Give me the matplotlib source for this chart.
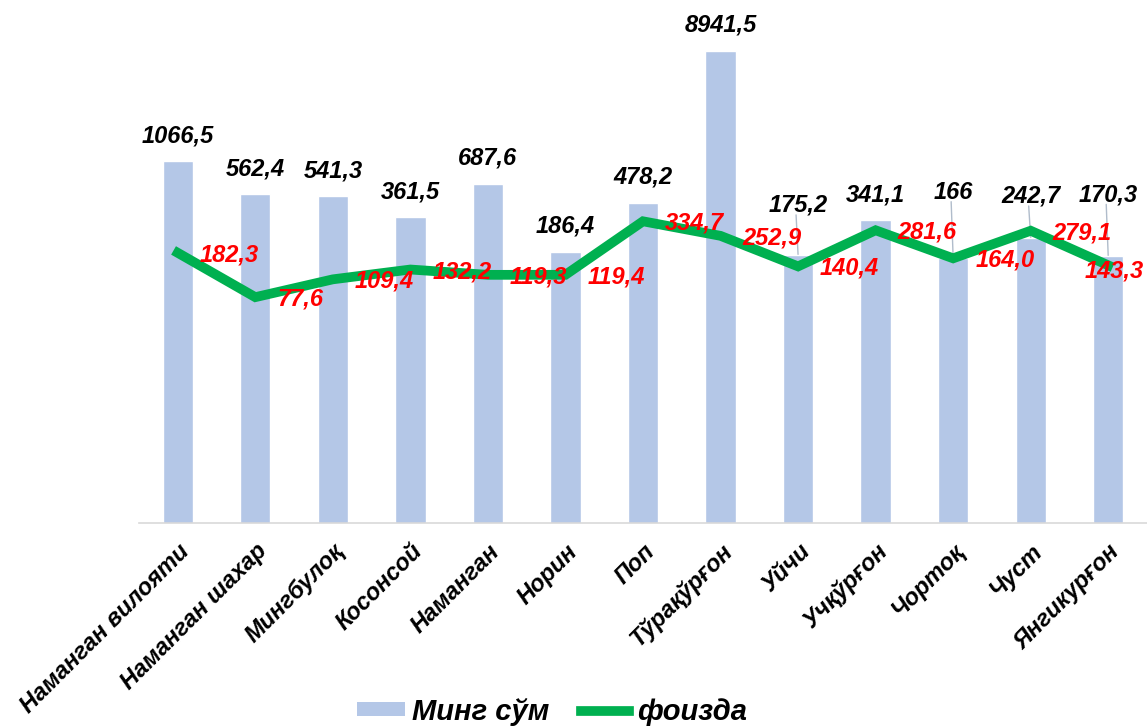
import matplotlib
matplotlib.use('Agg')
import matplotlib.pyplot as plt
from matplotlib.lines import Line2D
from matplotlib.patches import Patch

plt.rcParams['font.family'] = ['Liberation Sans', 'DejaVu Sans']

districts = ['Наманган вилояти', 'Наманган шахар', 'Мингбулоқ', 'Косонсой', 'Наманган',
             'Норин', 'Поп', 'Тўрақўрғон', 'Уйчи', 'Учқўрғон', 'Чортоқ', 'Чуст', 'Янгикурғон']
ming_sum = [1066.5, 562.4, 541.3, 361.5, 687.6, 186.4, 478.2, 8941.5, 175.2, 341.1, 166, 242.7, 170.3]
foizda = [182.3, 77.6, 109.4, 132.2, 119.3, 119.4, 334.7, 252.9, 140.4, 281.6, 164.0, 279.1, 143.3]
ming_sum_text = ['1066,5', '562,4', '541,3', '361,5', '687,6', '186,4', '478,2', '8941,5',
                 '175,2', '341,1', '166', '242,7', '170,3']
foizda_text = ['182,3', '77,6', '109,4', '132,2', '119,3', '119,4', '334,7', '252,9',
               '140,4', '281,6', '164,0', '279,1', '143,3']

# labels that were dragged up in the original (pixels), drawn with a leader line
lift = [0, 0, 0, 0, 0, 0, 0, 0, 24, 0, 40, 16, 36]

bar_color = '#B4C7E7'
line_color = '#00B050'

fig = plt.figure(figsize=(11.47, 7.26), dpi=100)
ax = fig.add_axes([139 / 1147, 1 - 523 / 726, 1 - 139 / 1147, (523 - 45) / 726])

x = list(range(len(districts)))
ax.bar(x, ming_sum, width=0.39, color=bar_color, edgecolor='white', linewidth=1, zorder=2)
ax.plot(x, foizda, color=line_color, linewidth=7, solid_joinstyle='miter', zorder=3)

ax.set_yscale('log')
ax.set_ylim(1, 10000)
ax.set_xlim(-0.5, len(districts) - 0.5)
ax.set_yticks([])
ax.minorticks_off()
ax.tick_params(axis='y', which='both', left=False, labelleft=False)
for s in ['top', 'right', 'left']:
    ax.spines[s].set_visible(False)
ax.spines['bottom'].set_color('#D9D9D9')
ax.spines['bottom'].set_linewidth(1.2)

ax.set_xticks(x)
ax.set_xticklabels(districts, rotation=45, ha='right', va='top', rotation_mode='anchor',
                   fontsize=17, fontweight='bold', fontstyle='italic')
ax.tick_params(axis='x', length=0, pad=12)

for i, (v, t) in enumerate(zip(ming_sum, ming_sum_text)):
    off = 14 + lift[i]
    ax.annotate(t, (i, v), xytext=(0, off), textcoords='offset pixels',
                ha='center', va='bottom', fontsize=17, fontweight='bold', fontstyle='italic',
                color='black', zorder=5)
    if lift[i]:
        ax.annotate('', (i, v), xytext=(-2, off + 2), textcoords='offset pixels',
                    arrowprops=dict(arrowstyle='-', color='#B0BCCB', lw=1, shrinkA=0, shrinkB=0),
                    zorder=1)

for i, (v, t) in enumerate(zip(foizda, foizda_text)):
    if i == len(foizda) - 1:
        # last label sits on the point, it would run off the edge otherwise
        pos, ha = (6, -6), 'center'
    else:
        pos, ha = (22, -2), 'left'
    ax.annotate(t, (i, v), xytext=pos, textcoords='offset pixels',
                ha=ha, va='center', fontsize=17, fontweight='bold', fontstyle='italic',
                color='#FF0000', zorder=6)

handles = [Patch(facecolor=bar_color, edgecolor='none'),
           Line2D([0], [0], color=line_color, linewidth=7)]
fig.legend(handles, ['Минг сўм', 'фоизда'], loc='center', bbox_to_anchor=(0.481, 0.02),
           ncol=2, frameon=False, handlelength=1.65, handleheight=0.35, handletextpad=0.25,
           columnspacing=1.1, borderpad=0,
           prop=dict(family='Liberation Sans', size=21, weight='bold', style='italic'))

fig.savefig('out.png', dpi=100)
